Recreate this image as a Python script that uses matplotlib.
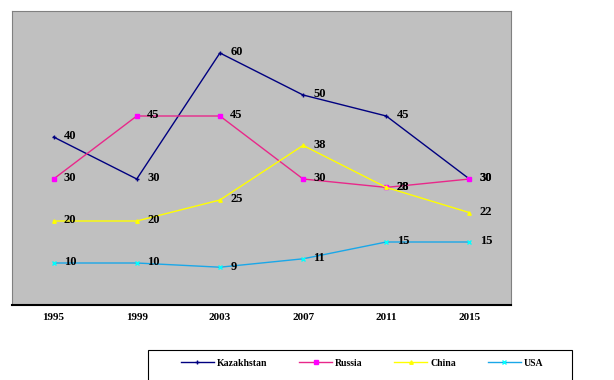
import matplotlib
matplotlib.use("Agg")
import matplotlib.pyplot as plt
from matplotlib.patches import Rectangle

years = ["1995", "1999", "2003", "2007", "2011", "2015"]
kazakhstan = [40, 30, 60, 50, 45, 30]
russia = [30, 45, 45, 30, 28, 30]
china = [20, 20, 25, 38, 28, 22]
usa = [10, 10, 9, 11, 15, 15]

series = [
    ("Kazakhstan", kazakhstan, "#000080", "#000080", "+", 3),
    ("Russia", russia, "#E8288A", "#FF00FF", "s", 2.2),
    ("China", china, "#FFFF00", "#FFFF00", "^", 2.5),
    ("USA", usa, "#1AA7E8", "#00FFFF", "x", 2.5),
]

plt.rcParams["font.family"] = ["Liberation Serif", "DejaVu Serif"]
plt.rcParams["font.weight"] = "bold"

fig = plt.figure(figsize=(6.14, 3.8), dpi=100)
ax = fig.add_axes([12 / 614, 1 - 305 / 380, (511 - 12) / 614, (305 - 11) / 380])
ax.set_facecolor("#C0C0C0")

x = list(range(len(years)))
handles = []
for name, vals, lc, mc, mk, ms in series:
    h, = ax.plot(x, vals, color=lc, lw=1.0, marker=mk, markersize=ms,
                 markerfacecolor=mc, markeredgecolor=mc, markeredgewidth=1.0,
                 label=name)
    handles.append(h)
    for xi, v in zip(x, vals):
        ax.annotate(str(v), (xi, v), xytext=(7.5, 0.5), textcoords="offset points",
                    ha="left", va="center", fontsize=9, fontweight="bold",
                    color="black")

ax.set_xlim(-0.5, len(years) - 0.5)
ax.set_ylim(0, 70)
ax.set_xticks(x)
ax.set_xticklabels(years, fontsize=8, fontweight="bold")
ax.tick_params(axis="x", length=0, pad=6)
ax.set_yticks([])
for s in ["left", "top", "right"]:
    ax.spines[s].set_color("#808080")
    ax.spines[s].set_linewidth(0.8)
ax.spines["bottom"].set_color("black")
ax.spines["bottom"].set_linewidth(1.5)

# legend box (extends past the bottom edge)
fig.patches.append(Rectangle((148 / 614, -0.05), (572 - 148) / 614, 0.05 + (380 - 350) / 380,
                             transform=fig.transFigure, facecolor="white",
                             edgecolor="black", linewidth=0.8))
leg = fig.legend(handles=handles, loc="center", bbox_to_anchor=(362 / 614, 1 - 363 / 380),
                 ncol=4, frameon=False, handlelength=3.4,
                 handletextpad=0.3, columnspacing=3.25,
                 prop={"weight": "bold", "size": 7})

fig.savefig("out.png", dpi=100)
